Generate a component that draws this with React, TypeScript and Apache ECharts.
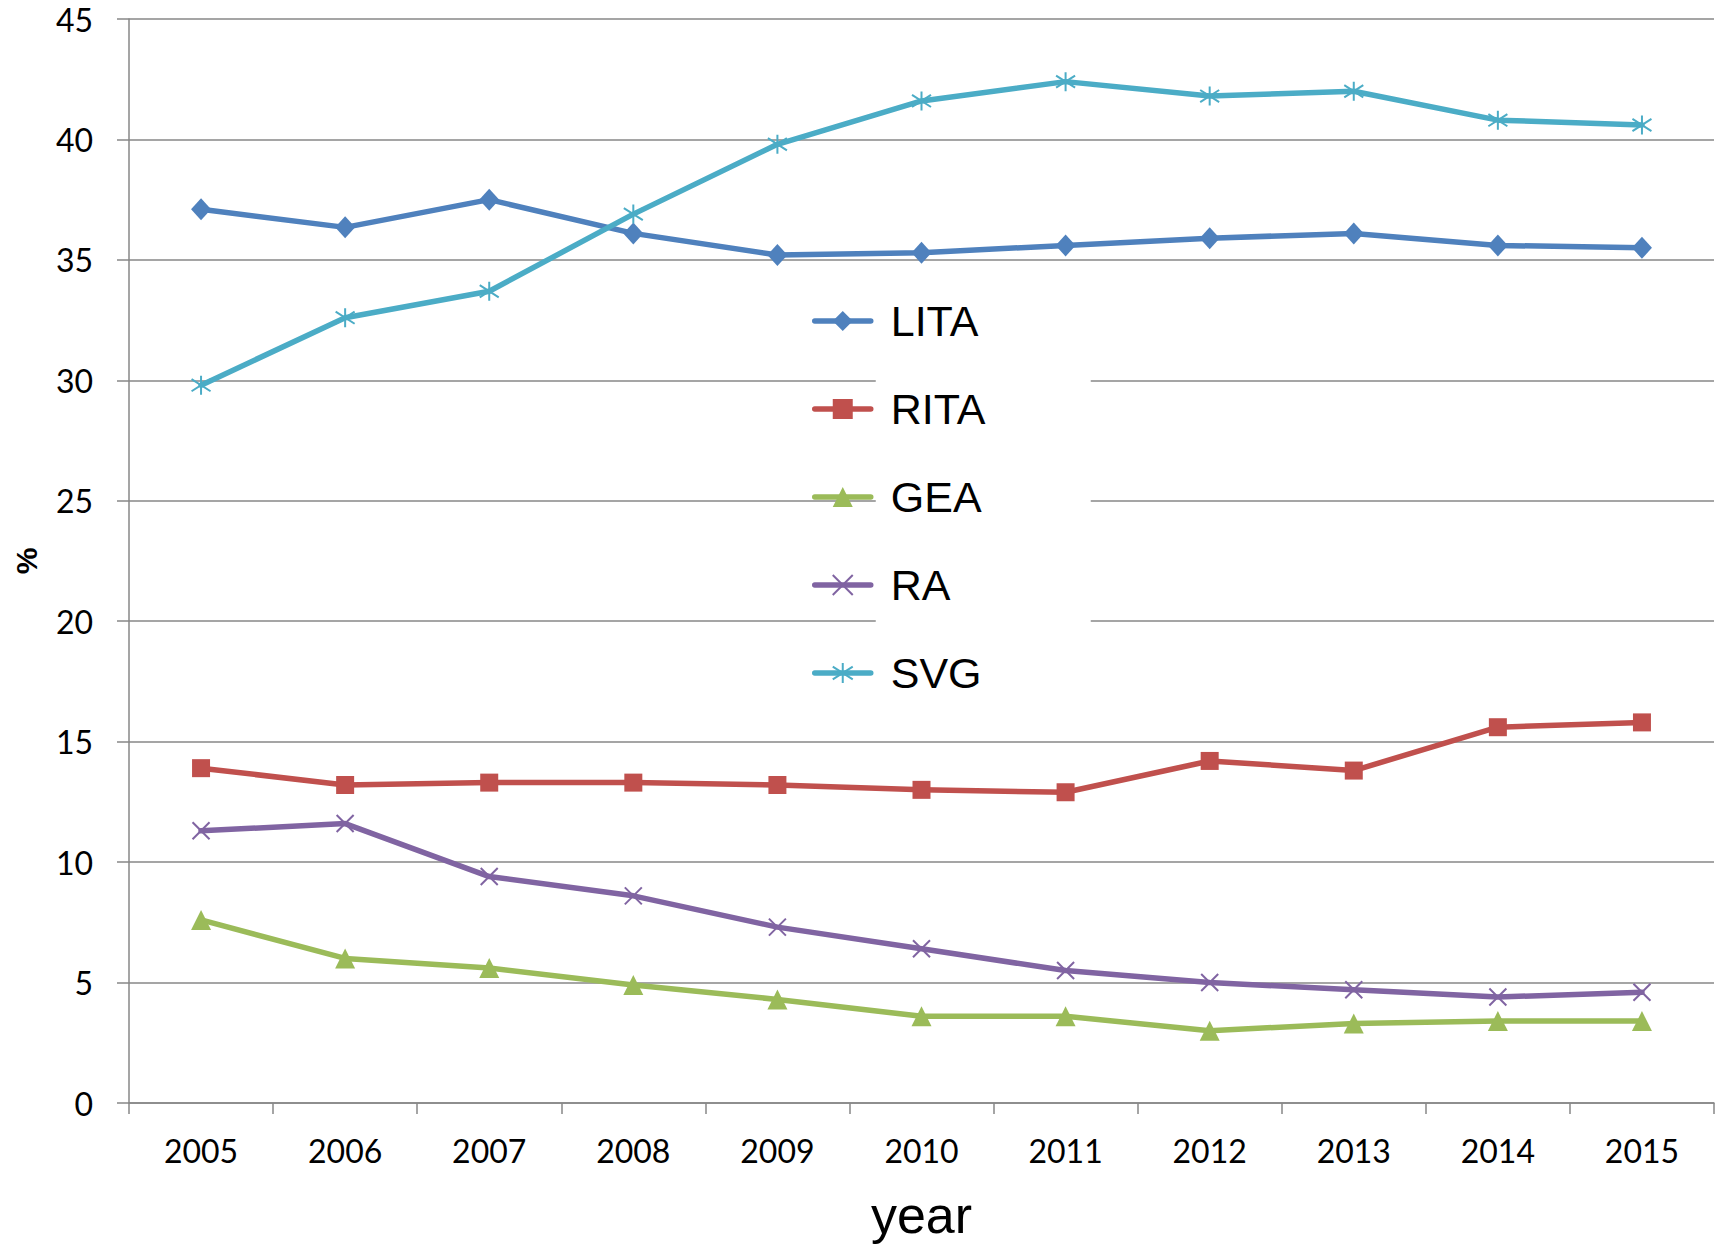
import React, { useEffect, useRef } from "react";
import * as echarts from "echarts";

const years = ["2005", "2006", "2007", "2008", "2009", "2010", "2011", "2012", "2013", "2014", "2015"];
const lita = [37.1, 36.35, 37.5, 36.1, 35.2, 35.3, 35.6, 35.9, 36.1, 35.6, 35.5];
const rita = [13.9, 13.2, 13.3, 13.3, 13.2, 13.0, 12.9, 14.2, 13.8, 15.6, 15.8];
const gea = [7.6, 6.0, 5.6, 4.9, 4.3, 3.6, 3.6, 3.0, 3.3, 3.4, 3.4];
const ra = [11.3, 11.6, 9.4, 8.6, 7.3, 6.4, 5.5, 5.0, 4.7, 4.4, 4.6];
const svg = [29.8, 32.6, 33.7, 36.9, 39.8, 41.6, 42.4, 41.8, 42.0, 40.8, 40.6];
const seriesNames = ["LITA", "RITA", "GEA", "RA", "SVG"];
const yTicks = { min: 0, max: 45, interval: 5 };

const COLORS = ["#4F81BD", "#C0504D", "#9BBB59", "#8064A2", "#4BACC6"];
const GRID_COLOR = "#878787";
const LABEL_FONT = "Lato, 'Open Sans', sans-serif";
const TITLE_FONT = "'Liberation Sans', Arial, sans-serif";

const X_SYMBOL = "path://M0,0L10,10M0,10L10,0";
const STAR_SYMBOL = "path://M5,0L5,10M0,1.8L10,8.2M10,1.8L0,8.2";

export default function App() {
  const ref = useRef<HTMLDivElement>(null);

  useEffect(() => {
    document.body.style.margin = "0";
    if (!ref.current) return;
    const chart = echarts.init(ref.current, undefined, { renderer: "svg" });

    const dataSets = [lita, rita, gea, ra, svg];
    const symbols = ["diamond", "rect", "triangle", X_SYMBOL, STAR_SYMBOL];
    const sizes: any[] = [[20, 22], 18, 20, 17, 19];

    const series = seriesNames.map((name, i) => {
      const isPath = i >= 3;
      return {
        name,
        type: "line",
        data: dataSets[i],
        symbol: symbols[i],
        symbolSize: sizes[i],
        showSymbol: true,
        showAllSymbol: true,
        lineStyle: { color: COLORS[i], width: 5.5, join: "round", cap: "round" },
        itemStyle: isPath
          ? { color: COLORS[i], borderColor: COLORS[i], borderWidth: 2 }
          : { color: COLORS[i], borderWidth: 0 },
        emphasis: { disabled: true },
        z: 2 + i,
      };
    });

    chart.setOption({
      animation: false,
      backgroundColor: "#ffffff",
      grid: { left: 129, right: 13, top: 19, bottom: 142, containLabel: false },
      legend: {
        orient: "vertical",
        left: 812,
        top: 277,
        padding: 0,
        itemWidth: 56,
        itemHeight: 25,
        itemGap: 0,
        selectedMode: false,
        data: seriesNames,
        lineStyle: { width: 5.5, cap: "round" },
        textStyle: {
          fontSize: 43,
          fontFamily: TITLE_FONT,
          color: "#000",
          backgroundColor: "#ffffff",
          width: 200,
          height: 78,
          lineHeight: 78,
          padding: [0, 0, 10, 15],
        },
      },
      xAxis: {
        type: "category",
        data: years,
        boundaryGap: true,
        name: "year",
        nameLocation: "middle",
        nameGap: 86,
        nameTextStyle: { fontSize: 52, fontFamily: TITLE_FONT, color: "#000" },
        axisLine: { show: true, lineStyle: { color: GRID_COLOR, width: 1.5 } },
        axisTick: { show: true, length: 11, interval: 0, lineStyle: { color: GRID_COLOR, width: 1.5 } },
        axisLabel: { fontSize: 32, fontFamily: LABEL_FONT, color: "#000", margin: 31, interval: 0 },
        splitLine: { show: false },
      },
      yAxis: {
        type: "value",
        min: yTicks.min,
        max: yTicks.max,
        interval: yTicks.interval,
        name: "%",
        nameLocation: "middle",
        nameGap: 88,
        nameRotate: 90,
        nameTextStyle: { fontSize: 30, fontWeight: "bold", fontFamily: TITLE_FONT, color: "#000" },
        axisLine: { show: true, lineStyle: { color: GRID_COLOR, width: 1.5 } },
        axisTick: { show: true, length: 12, lineStyle: { color: GRID_COLOR, width: 1.5 } },
        axisLabel: { fontSize: 32, fontFamily: LABEL_FONT, color: "#000", margin: 36 },
        splitLine: { show: true, lineStyle: { color: GRID_COLOR, width: 1.5 } },
      },
      series,
    });

    return () => chart.dispose();
  }, []);

  return (
    <div
      ref={ref}
      style={{ position: "fixed", left: 0, top: 0, width: 1727, height: 1246, background: "#fff" }}
    />
  );
}
